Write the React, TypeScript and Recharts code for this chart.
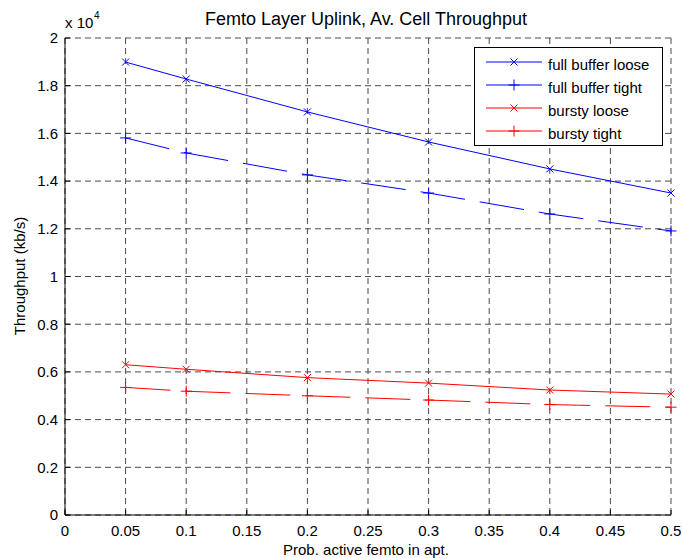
import { LineChart, Line, XAxis, YAxis, CartesianGrid } from 'recharts';

const probs = [0.05, 0.1, 0.2, 0.3, 0.4, 0.5];
const fullBufferLoose = [18990, 18280, 16900, 15640, 14510, 13500];
const fullBufferTight = [15810, 15180, 14260, 13500, 12620, 11910];
const burstyLoose = [6300, 6110, 5760, 5530, 5240, 5070];
const burstyTight = [5350, 5190, 5000, 4820, 4630, 4520];

const xTicks = [0, 0.05, 0.1, 0.15, 0.2, 0.25, 0.3, 0.35, 0.4, 0.45, 0.5];
const yTicks = [0, 2000, 4000, 6000, 8000, 10000, 12000, 14000, 16000, 18000, 20000];

const series = [
  { key: 'fbl', name: 'full buffer loose', color: '#0000ff', marker: 'x', dashed: false },
  { key: 'fbt', name: 'full buffer tight', color: '#0000ff', marker: '+', dashed: true },
  { key: 'bl', name: 'bursty loose', color: '#ff0000', marker: 'x', dashed: false },
  { key: 'bt', name: 'bursty tight', color: '#ff0000', marker: '+', dashed: true },
];

const data = probs.map((p, i) => ({
  p,
  fbl: fullBufferLoose[i],
  fbt: fullBufferTight[i],
  bl: burstyLoose[i],
  bt: burstyTight[i],
}));

const font = '"Liberation Sans", Arial, sans-serif';

function markerPath(type: string, cx: number, cy: number) {
  if (type === 'x') {
    const s = 3.5;
    return `M${cx - s},${cy - s}L${cx + s},${cy + s}M${cx - s},${cy + s}L${cx + s},${cy - s}`;
  }
  const s = 5.5;
  return `M${cx - s},${cy}L${cx + s},${cy}M${cx},${cy - s}L${cx},${cy + s}`;
}

const makeDot = (type: string, color: string) => (props: any) => {
  const { cx, cy, index } = props;
  if (cx == null || cy == null) return <g key={index} />;
  return <path key={index} d={markerPath(type, cx, cy)} stroke={color} strokeWidth={1} fill="none" />;
};

export default function App() {
  return (
    <div style={{ position: 'absolute', left: 0, top: 0, width: 682, height: 558, background: '#fff' }}>
      <LineChart width={682} height={558} data={data} margin={{ top: 38, right: 11, bottom: 0, left: 0 }}>
        <CartesianGrid stroke="#4a4a4a" strokeDasharray="6 4" />
        <XAxis
          dataKey="p"
          type="number"
          domain={[0, 0.5]}
          ticks={xTicks}
          interval={0}
          height={43}
          tickSize={-5}
          tickMargin={15}
          axisLine={{ stroke: '#000' }}
          tickLine={{ stroke: '#000' }}
          tick={{ fill: '#000', fontSize: 15, fontFamily: font }}
        />
        <YAxis
          type="number"
          domain={[0, 20000]}
          ticks={yTicks}
          interval={0}
          width={65}
          tickSize={-5}
          tickMargin={12}
          axisLine={{ stroke: '#000' }}
          tickLine={{ stroke: '#000' }}
          tick={{ fill: '#000', fontSize: 15, fontFamily: font }}
          tickFormatter={(v: number) => String(v / 10000)}
        />
        <XAxis
          xAxisId="top"
          orientation="top"
          type="number"
          domain={[0, 0.5]}
          ticks={xTicks}
          interval={0}
          height={0}
          mirror
          tick={false}
          tickSize={5}
          axisLine={{ stroke: '#000' }}
          tickLine={{ stroke: '#000' }}
        />
        <YAxis
          yAxisId="right"
          orientation="right"
          type="number"
          domain={[0, 20000]}
          ticks={yTicks}
          interval={0}
          width={0}
          mirror
          tick={false}
          tickSize={5}
          axisLine={{ stroke: '#000' }}
          tickLine={{ stroke: '#000' }}
        />
        {series.map((s) => (
          <Line
            key={s.key}
            dataKey={s.key}
            name={s.name}
            stroke={s.color}
            strokeWidth={1}
            strokeDasharray={s.dashed ? '45 15' : undefined}
            dot={makeDot(s.marker, s.color)}
            activeDot={false}
            isAnimationActive={false}
          />
        ))}
      </LineChart>
      <svg
        width={682}
        height={558}
        style={{ position: 'absolute', left: 0, top: 0, pointerEvents: 'none' }}
        fontFamily={font}
        fontSize={15}
      >
        <text x={366} y={25} textAnchor="middle" fill="#000" fontSize={18}>
          Femto Layer Uplink, Av. Cell Throughput
        </text>
        <text x={65} y={28} fill="#000">x 10</text>
        <text x={94} y={18.5} fill="#000" fontSize={10}>4</text>
        <text transform="translate(25,276) rotate(-90)" textAnchor="middle" fill="#000">
          Throughput (kb/s)
        </text>
        <text x={366} y={555} textAnchor="middle" fill="#000">
          Prob. active femto in apt.
        </text>
        <rect x={474.5} y={47.5} width={188} height={98} fill="#fff" stroke="#000" />
        {series.map((s, i) => {
          const y = 62 + i * 23;
          return (
            <g key={s.key}>
              <line x1={486} x2={542} y1={y} y2={y} stroke={s.color} strokeWidth={1} />
              <path d={markerPath(s.marker, 514, y)} stroke={s.color} fill="none" />
              <text x={548} y={y + 8} fill="#000">{s.name}</text>
            </g>
          );
        })}
      </svg>
    </div>
  );
}
